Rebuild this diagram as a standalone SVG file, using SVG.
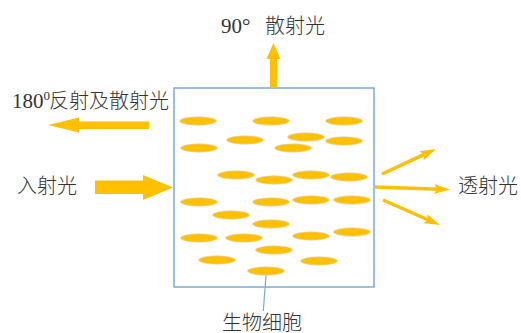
<svg xmlns="http://www.w3.org/2000/svg" width="521" height="333" viewBox="0 0 521 333">
  <style>
    .lbl { font-family: "Liberation Serif", "Noto Sans CJK SC", serif; font-size: 20px; font-weight: 300; fill: #333333; }
    .num { font-family: "Liberation Serif", serif; font-size: 21px; fill: #333333; }
    .cell { fill: #FFC000; stroke: #d9d9d9; stroke-width: 0.6; }
    .block { fill: #FFC000; }
    .ray { stroke: #FFC000; stroke-width: 3.5; fill: none; marker-end: url(#head); }
    .frame { fill: none; stroke: #7aa9dc; stroke-width: 1.5; }
    .lead { stroke: #7aa9dc; stroke-width: 1.2; fill: none; }
  </style>
  <defs>
    <marker id="head" markerUnits="userSpaceOnUse" markerWidth="16" markerHeight="10" viewBox="0 0 16 10" refX="6" refY="5" orient="auto">
      <path d="M0,0 L16,5 L0,10 L3,5 z" fill="#FFC000"/>
    </marker>
  </defs>
  <rect width="521" height="333" fill="#ffffff"/>

  <!-- sample container with cells -->
  <g id="sample">
    <rect class="frame" x="174" y="88" width="200" height="199"/>
    <ellipse class="cell" cx="198" cy="121" rx="18.5" ry="4.2"/>
    <ellipse class="cell" cx="271" cy="121" rx="18.5" ry="4.2"/>
    <ellipse class="cell" cx="344" cy="121" rx="18.5" ry="4.2"/>
    <ellipse class="cell" cx="245" cy="140" rx="18.5" ry="4.2"/>
    <ellipse class="cell" cx="306" cy="137" rx="18.5" ry="4.2"/>
    <ellipse class="cell" cx="344" cy="141" rx="18.5" ry="4.2"/>
    <ellipse class="cell" cx="199" cy="148" rx="18.5" ry="4.2"/>
    <ellipse class="cell" cx="293" cy="148" rx="18.5" ry="4.2"/>
    <ellipse class="cell" cx="236" cy="175" rx="18.5" ry="4.2"/>
    <ellipse class="cell" cx="274" cy="180" rx="18.5" ry="4.2"/>
    <ellipse class="cell" cx="311" cy="175" rx="18.5" ry="4.2"/>
    <ellipse class="cell" cx="349" cy="177" rx="18.5" ry="4.2"/>
    <ellipse class="cell" cx="199" cy="202" rx="18.5" ry="4.2"/>
    <ellipse class="cell" cx="271" cy="202" rx="18.5" ry="4.2"/>
    <ellipse class="cell" cx="311" cy="200" rx="18.5" ry="4.2"/>
    <ellipse class="cell" cx="352" cy="200" rx="18.5" ry="4.2"/>
    <ellipse class="cell" cx="231" cy="215" rx="18.5" ry="4.2"/>
    <ellipse class="cell" cx="271" cy="224" rx="18.5" ry="4.2"/>
    <ellipse class="cell" cx="199" cy="238" rx="18.5" ry="4.2"/>
    <ellipse class="cell" cx="244" cy="238" rx="18.5" ry="4.2"/>
    <ellipse class="cell" cx="311" cy="236" rx="18.5" ry="4.2"/>
    <ellipse class="cell" cx="352" cy="232" rx="18.5" ry="4.2"/>
    <ellipse class="cell" cx="274" cy="250" rx="18.5" ry="4.2"/>
    <ellipse class="cell" cx="217" cy="260" rx="18.5" ry="4.2"/>
    <ellipse class="cell" cx="319" cy="261" rx="18.5" ry="4.2"/>
    <ellipse class="cell" cx="266" cy="271" rx="18.5" ry="4.2"/>
  </g>

  <!-- light paths -->
  <g id="connectors">
    <polygon class="block" points="270,87 270,59 266.5,59 273.5,43 280.5,59 277,59 277,87"/>
    <polygon class="block" points="149,121.5 79,121.5 79,117.5 48,125 79,132.5 79,129 149,129"/>
    <polygon class="block" points="95,180.5 143,180.5 143,175 173,187.5 143,200 143,194 95,194"/>
    <line class="ray" x1="382" y1="174" x2="426.9" y2="153.2"/>
    <line class="ray" x1="375" y1="187" x2="440" y2="189.2"/>
    <line class="ray" x1="383" y1="200" x2="430.8" y2="221"/>
    <line class="lead" x1="266" y1="275.5" x2="263.3" y2="311"/>
  </g>

  <g id="label-scatter90">
    <text class="num" x="221" y="33">90°</text>
    <text class="lbl" x="265" y="33">散射光</text>
  </g>
  <g id="label-back">
    <text class="num" x="12" y="108">180<tspan font-size="13" dy="-8">0</tspan></text>
    <text class="lbl" x="49" y="108">反射及散射光</text>
  </g>
  <g id="label-incident">
    <text class="lbl" x="17" y="193">入射光</text>
  </g>
  <g id="label-transmit">
    <text class="lbl" x="458" y="193">透射光</text>
  </g>
  <g id="label-cell">
    <text class="lbl" x="222" y="330">生物细胞</text>
  </g>
</svg>
